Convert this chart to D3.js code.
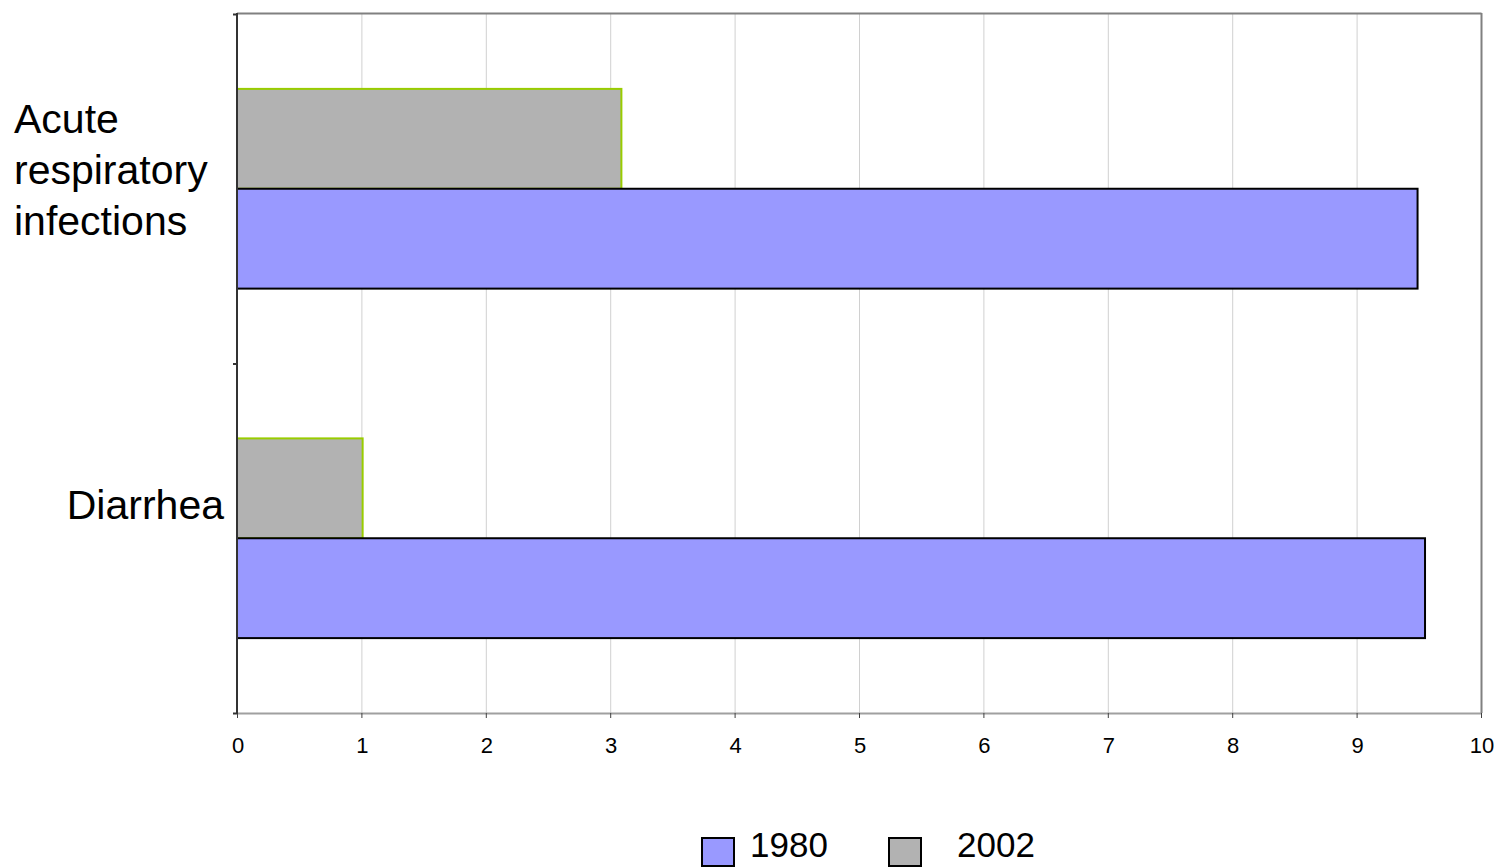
<!DOCTYPE html>
<html><head><meta charset="utf-8">
<script src="https://cdn.jsdelivr.net/npm/d3@7"></script>
<style>body{margin:0;background:#fff}svg{display:block;font-family:Arial,"Liberation Sans",sans-serif}</style>
</head><body>
<script>
const categories = ["Acute respiratory infections", "Diarrhea"];
const categoryLines = [["Acute","respiratory","infections"], ["Diarrhea"]];
const seriesNames = ["2002", "1980"];
const values1980 = [9.49, 9.55];
const values2002 = [3.09, 1.01];
const xTicks = [0,1,2,3,4,5,6,7,8,9,10];
const legendNames = ["1980", "2002"];

const W = 1508, H = 868;
const svg = d3.select("body").append("svg").attr("width", W).attr("height", H);
const L = 237, R = 1481, T = 14, B = 713;
const x = d3.scaleLinear().domain([0,10]).range([L,R]);
const y = d3.scaleBand().domain(categories).range([T,B]).paddingInner(0).paddingOuter(0);
const inner = d3.scaleBand().domain(seriesNames).range([0, y.bandwidth()]).paddingInner(0).paddingOuter(0.75);

const colors = {"1980": "#9999FF", "2002": "#B2B2B2"};
const strokes = {"1980": "#000000", "2002": "#99CC00"};

// gridlines
svg.append("g").selectAll("line").data(xTicks.slice(1,-1)).join("line")
  .attr("x1", d=>x(d)+0.5).attr("x2", d=>x(d)+0.5).attr("y1", T).attr("y2", B)
  .attr("stroke", "#d0d0d0").attr("stroke-width", 1);
// border top/right
svg.append("line").attr("x1", L).attr("x2", R+0.5).attr("y1", T-0.5).attr("y2", T-0.5).attr("stroke","#808080").attr("stroke-width",2);
svg.append("line").attr("x1", R+0.5).attr("x2", R+0.5).attr("y1", T-1).attr("y2", B).attr("stroke","#808080").attr("stroke-width",2);

// bars
const data = [];
categories.forEach((c,i)=>{
  data.push({cat:c, s:"2002", v:values2002[i]});
  data.push({cat:c, s:"1980", v:values1980[i]});
});
svg.append("g").selectAll("rect").data(data).join("rect")
  .attr("x", x(0)).attr("y", d=>y(d.cat)+inner(d.s))
  .attr("width", d=>x(d.v)-x(0)).attr("height", inner.bandwidth())
  .attr("fill", d=>colors[d.s]).attr("stroke", d=>strokes[d.s]).attr("stroke-width", 2);

// x axis
const xa = svg.append("g").attr("transform", `translate(0,${B})`);
xa.append("line").attr("x1", L).attr("x2", R).attr("y1",0.5).attr("y2",0.5).attr("stroke","#a0a0a0").attr("stroke-width",2);
xa.selectAll("line.t").data(xTicks).join("line").attr("class","t")
  .attr("x1", d=>x(d)+0.5).attr("x2", d=>x(d)+0.5).attr("y1",0).attr("y2",5).attr("stroke","#404040").attr("stroke-width",1);
xa.selectAll("text").data(xTicks).join("text")
  .attr("x", d=>x(d)+1).attr("y", 40).attr("text-anchor","middle")
  .attr("font-size", 22).attr("fill","#000").text(d=>d);

// y axis
svg.append("line").attr("x1", L).attr("x2", L).attr("y1", T-1).attr("y2", B+1).attr("stroke","#333").attr("stroke-width",2);
const yTicks = [T, y(categories[1]), B];
svg.append("g").selectAll("line").data(yTicks).join("line")
  .attr("x1", L-4).attr("x2", L).attr("y1", d=>d+0.5).attr("y2", d=>d+0.5).attr("stroke","#333").attr("stroke-width",2);

// category labels
const fs = 41, lh = 51;
categories.forEach((c,i)=>{
  const lines = categoryLines[i];
  const cy = y(c) + y.bandwidth()/2;
  const t = svg.append("text").attr("font-size", fs).attr("fill","#000");
  if (lines.length > 1) {
    lines.forEach((ln,j)=>{
      t.append("tspan").attr("x", 14).attr("y", cy - 56 + j*lh).text(ln);
    });
  } else {
    t.attr("x", 224).attr("y", cy - 19).attr("text-anchor","end").text(lines[0]);
  }
});

// legend
const lg = svg.append("g");
const legX = [702, 889], txtX = [750, 957];
legendNames.forEach((n,i)=>{
  lg.append("rect").attr("x", legX[i]).attr("y", 838).attr("width", 32).attr("height", 28)
    .attr("fill", colors[n]).attr("stroke","#000").attr("stroke-width",2);
  lg.append("text").attr("x", txtX[i]).attr("y", 857).attr("font-size", 35).attr("fill","#000").text(n);
});
</script>
</body></html>
